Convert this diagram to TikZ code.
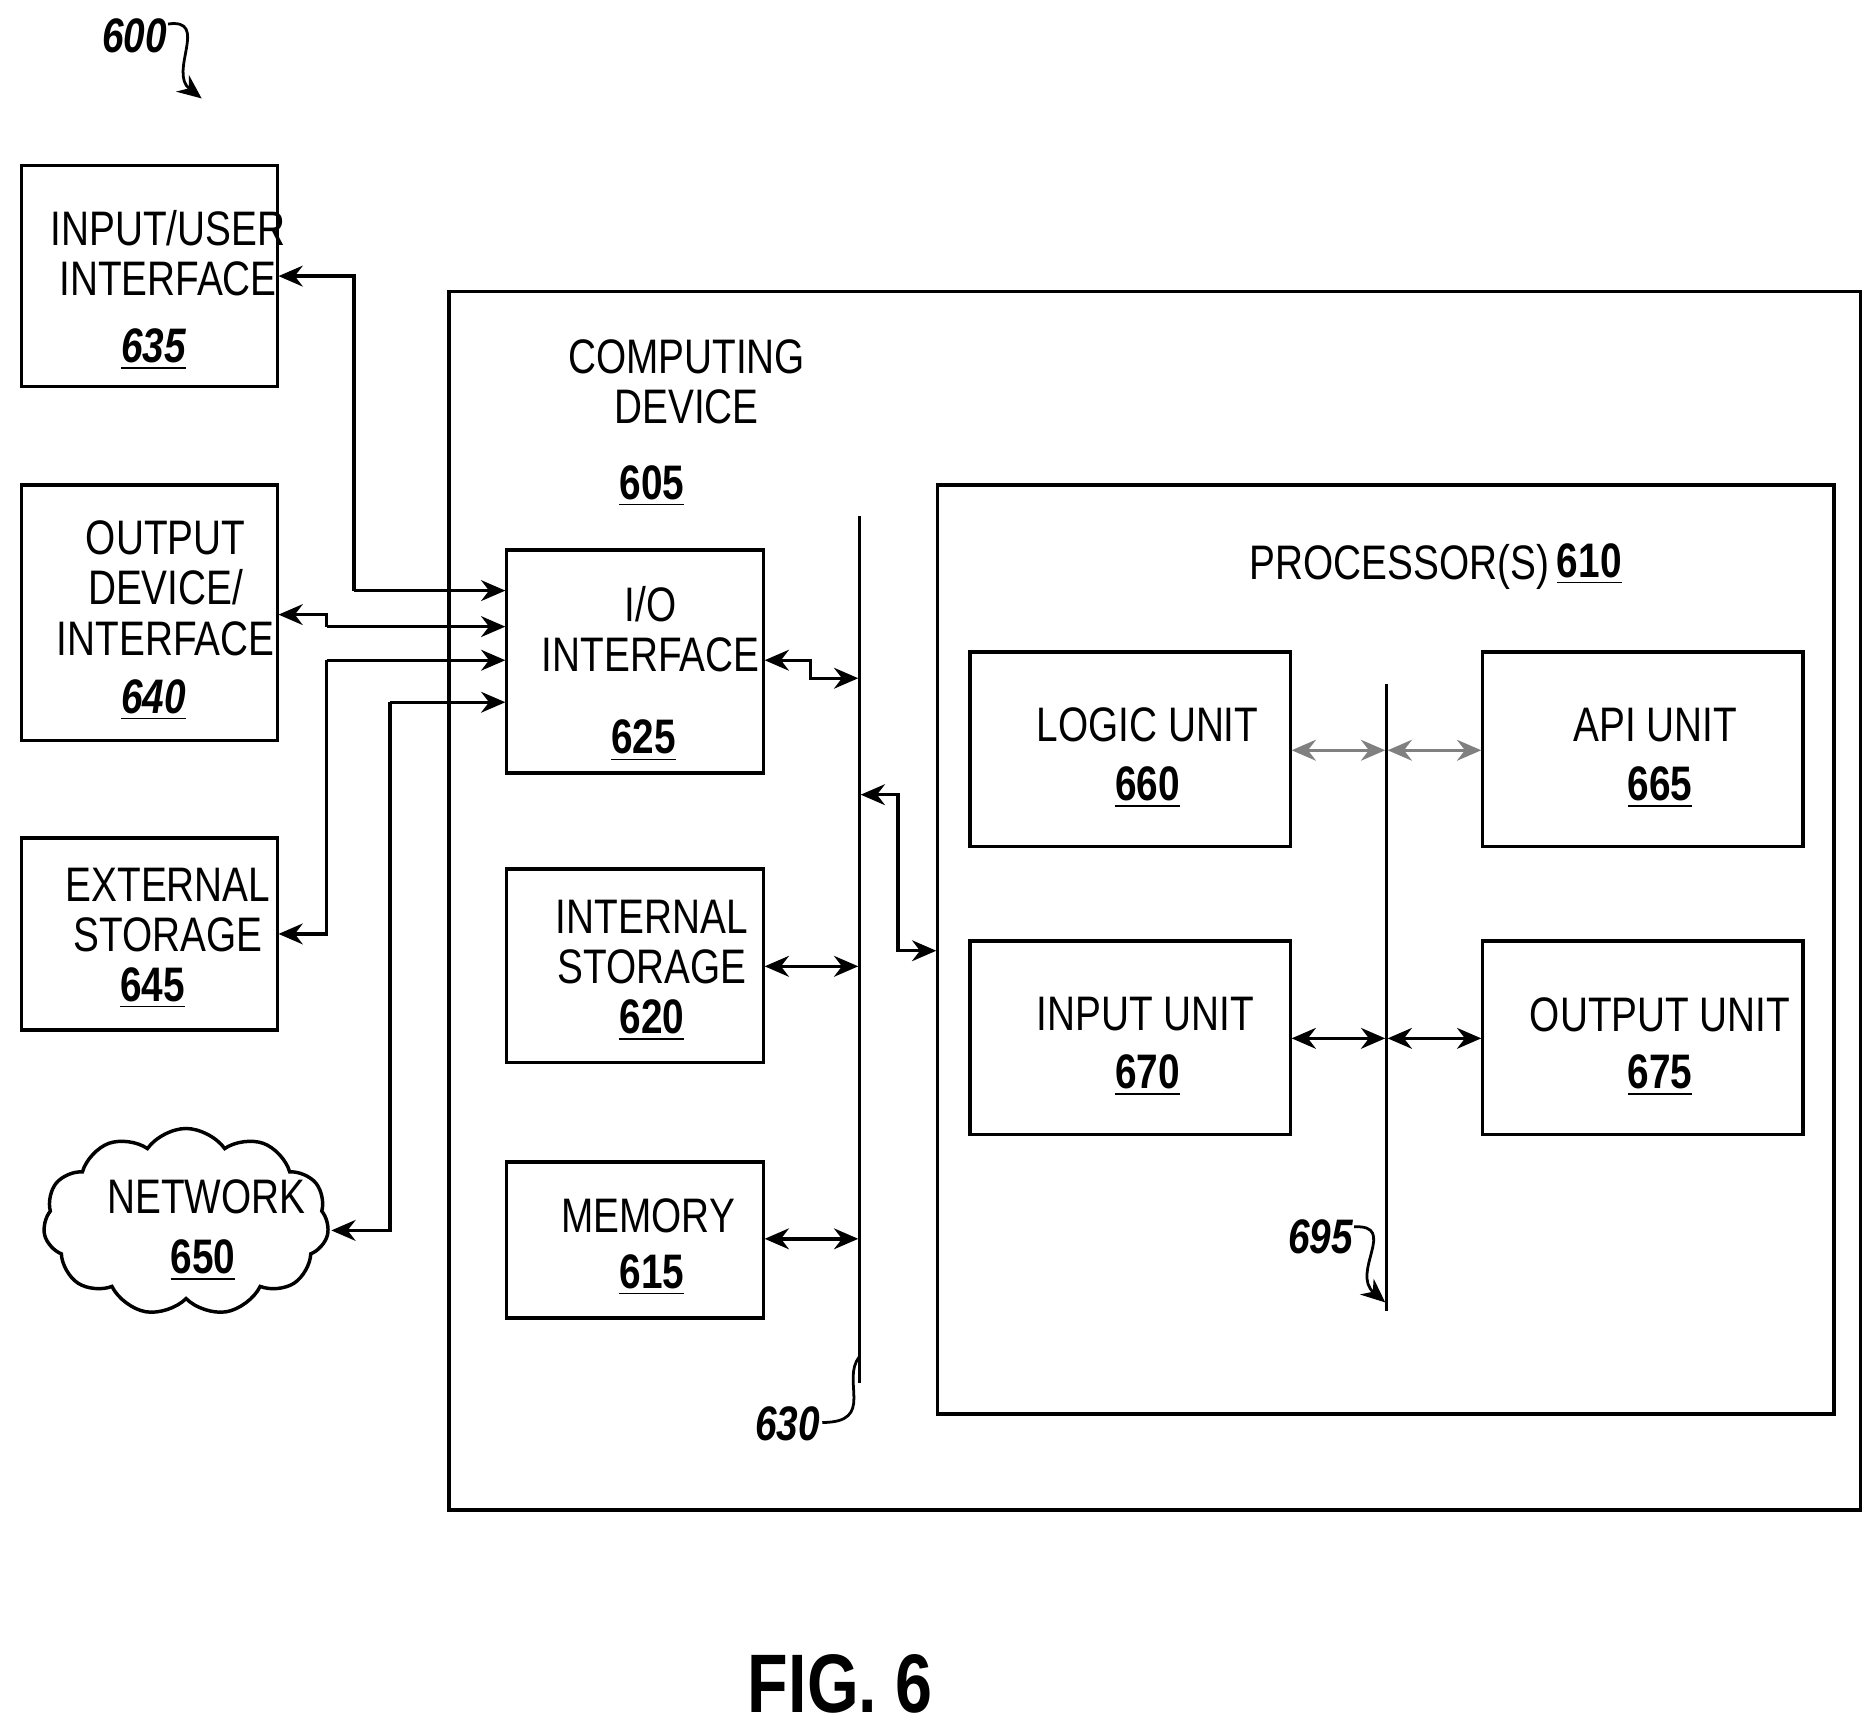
\documentclass[tikz,border=0pt]{standalone}
\usepackage{fontspec}
\setmainfont[FakeStretch=0.8]{Liberation Sans}
\usetikzlibrary{arrows.meta,shapes.symbols}
\begin{document}
\begin{tikzpicture}[x=0.01219cm,y=-0.01219cm,
  box/.style={draw,line width=1pt},
  lbl/.style={font=\fontsize{14}{14.5}\selectfont,align=center,inner sep=0},
  num/.style={font=\fontsize{14}{14.5}\selectfont\bfseries,inner sep=0},
  ref/.style={font=\fontsize{14}{14.5}\selectfont\bfseries\itshape,inner sep=0},
  ar/.style={line width=1pt,-{Stealth[length=7pt,width=6pt]}},
  dar/.style={line width=1pt,{Stealth[length=7pt,width=6pt]}-{Stealth[length=7pt,width=6pt]}},
  gar/.style={line width=1pt,draw=gray,{Stealth[length=7pt,width=6pt]}-{Stealth[length=7pt,width=6pt]}}]
\useasboundingbox (0,0) rectangle (1562,1436);
\newcommand{\un}[1]{\underline{#1}}
% outer
\draw[box] (374,243) rectangle (1550,1258);
\node[lbl] (cdt) at (572,318) {COMPUTING\\DEVICE};
\node[num] (cdn) at (543,405) {\un{605}};
\draw[box] (781,404) rectangle (1528,1178);
\node[lbl] (pt) at (1166,472) {PROCESSOR(S)};
\node[num] (pn) at (1324,470) {\un{610}};
% left boxes
\draw[box] (18,138) rectangle (231,322);
\node[lbl] (iu) at (140,211) {INPUT/USER\\INTERFACE};
\node[num] at (128,291) {\un{\itshape 635}};
\draw[box] (18,404) rectangle (231,617);
\node[lbl] (od) at (138,490) {OUTPUT\\DEVICE/\\INTERFACE};
\node[num] at (128,583) {\un{\itshape 640}};
\draw[box] (18,698) rectangle (231,858);
\node[lbl] (es) at (140,758) {EXTERNAL\\STORAGE};
\node[num] at (127,823) {\un{645}};
\node[cloud,draw,line width=1pt,cloud puffs=11,cloud puff arc=110,aspect=1.6,minimum width=2.9cm,minimum height=1.9cm,inner sep=0] (net) at (155,1018) {};
\node[lbl] at (172,997) {NETWORK};
\node[num] at (169,1050) {\un{650}};
% inner boxes
\draw[box] (422,458) rectangle (636,644);
\node[lbl] at (542,524) {I/O\\INTERFACE};
\node[num] at (536,617) {\un{625}};
\draw[box] (422,724) rectangle (636,885);
\node[lbl] at (543,785) {INTERNAL\\STORAGE};
\node[num] at (543,850) {\un{620}};
\draw[box] (422,968) rectangle (636,1098);
\node[lbl] at (540,1013) {MEMORY};
\node[num] at (543,1062) {\un{615}};
\draw[box] (808,543) rectangle (1075,705);
\node[lbl] at (956,604) {LOGIC UNIT};
\node[num] at (956,656) {\un{660}};
\draw[box] (1235,543) rectangle (1502,705);
\node[lbl] at (1379,604) {API UNIT};
\node[num] at (1383,656) {\un{665}};
\draw[box] (808,784) rectangle (1075,945);
\node[lbl] at (954,845) {INPUT UNIT};
\node[num] at (956,896) {\un{670}};
\draw[box] (1235,784) rectangle (1502,945);
\node[lbl] at (1383,845) {OUTPUT UNIT};
\node[num] at (1383,896) {\un{675}};
% buses
\coordinate (b1t) at (716,430); \coordinate (b1b) at (716,1152);
\draw[line width=1pt] (b1t)--(b1b);
\coordinate (b2t) at (1155,570); \coordinate (b2b) at (1155,1092);
\draw[line width=1pt] (b2t)--(b2b);
% left connectors
\draw[ar] (295,492) -- (295,230) -- (232,230);
\draw[ar] (295,492) -- (421,492);
\draw[ar] (272,522) -- (272,512) -- (232,512);
\draw[ar] (272,522) -- (421,522);
\draw[ar] (272,550) -- (272,778) -- (232,778);
\draw[ar] (272,550) -- (421,550);
\draw[ar] (325,585) -- (325,1025) -- (276,1025);
\draw[ar] (325,585) -- (421,585);
% inner connectors
\draw[dar] (637,550) -- (675,550) -- (675,565) -- (715,565);
\draw[dar] (717,662) -- (748,662) -- (748,792) -- (780,792);
\draw[dar] (637,805) -- (715,805);
\draw[dar] (637,1032) -- (715,1032);
\draw[gar] (1076,625) -- (1154,625);
\draw[gar] (1156,625) -- (1234,625);
\draw[dar] (1076,865) -- (1154,865);
\draw[dar] (1156,865) -- (1234,865);
% refs
\node[ref] (r600) at (112,30) {600};
\draw[ar,line width=0.8pt] (140,20) .. controls (175,15) and (140,60) .. (168,82);
\node[ref] (r630) at (656,1186) {630};
\draw[line width=0.8pt] (685,1185) .. controls (730,1185) and (700,1150) .. (716,1130);
\node[ref] (r695) at (1100,1030) {695};
\draw[ar,line width=0.8pt] (1128,1022) .. controls (1165,1020) and (1125,1060) .. (1154,1085);
\node[font=\fontsize{24}{28}\selectfont\bfseries] (fig) at (700,1403) {FIG. 6};
\end{tikzpicture}
\end{document}
